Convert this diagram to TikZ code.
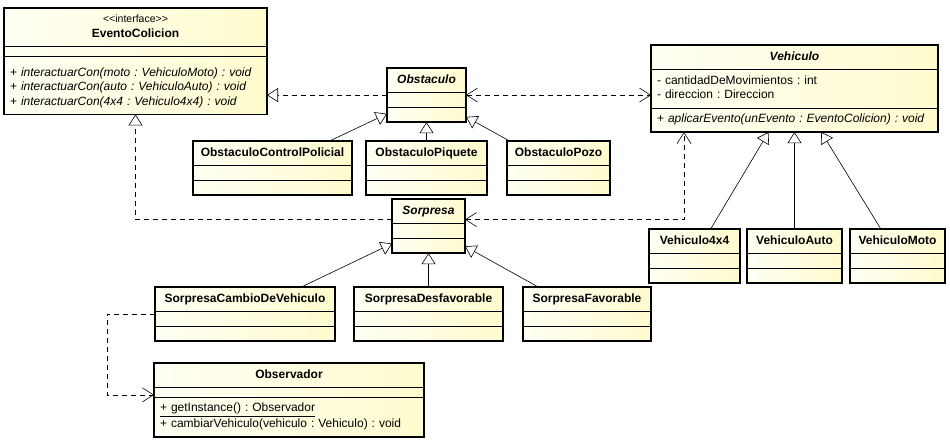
\documentclass[tikz,border=0pt]{standalone}
\usepackage{fontspec}
\setmainfont{Liberation Sans}
\usetikzlibrary{shapes.multipart,arrows.meta,positioning}
\setlength{\parindent}{0pt}
\frenchspacing

\definecolor{umlleft}{RGB}{255,255,244}
\definecolor{umlright}{RGB}{255,252,206}

% taller first line for the operations of the interface
\newcommand{\opline}{\rule{0pt}{15pt}}

\tikzset{
	umlclass/.style={rectangle split, rectangle split parts=3, draw, line width=0.7pt,
		anchor=north west, outer sep=0pt, inner xsep=6pt, inner ysep=4.5pt,
		rectangle split empty part height=0pt, rectangle split empty part depth=0pt,
		left color=umlleft, right color=umlright,
		font=\fontsize{12}{14.5}\selectfont},
	realize/.style={line width=0.6pt, dash pattern=on 5pt off 4pt, -{Triangle[open,length=11pt,width=14pt]}},
	inherit/.style={line width=0.6pt, -{Triangle[open,length=11pt,width=14pt]}},
	depend/.style={line width=0.6pt, dash pattern=on 5pt off 4pt, -{Straight Barb[length=11pt,width=14pt]}},
	dependboth/.style={line width=0.6pt, dash pattern=on 5pt off 4pt, {Straight Barb[length=11pt,width=14pt]}-{Straight Barb[length=11pt,width=14pt]}}
}

\begin{document}
\begin{tikzpicture}[x=1pt,y=-1pt]
		\useasboundingbox (0,0) rectangle (950,439);
		
		\node[umlclass, text width=251pt] (evento) at (4,8) {\centering{\fontsize{10.5}{14}\selectfont\textless\kern0pt\textless interface\textgreater\kern0pt\textgreater}\strut\\\textbf{EventoColicion}\strut\par
			\nodepart{second}
			\nodepart{third}\opline\strut+ \textit{interactuarCon(moto : VehiculoMoto) : void}\\
			\strut+ \textit{interactuarCon(auto : VehiculoAuto) : void}\\
			\strut+ \textit{interactuarCon(4x4 : Vehiculo4x4) : void}};
		
		\node[umlclass, text width=67pt] (obstaculo) at (387,68) {\centering\strut\textbf{\textit{Obstaculo}}\par};
		\node[umlclass, text width=147pt] (controlpolicial) at (193,141) {\centering\strut\textbf{ObstaculoControlPolicial}\par};
		\node[umlclass, text width=109pt] (piquete) at (366,141) {\centering\strut\textbf{ObstaculoPiquete}\par};
		\node[umlclass, text width=91pt] (pozo) at (507,141) {\centering\strut\textbf{ObstaculoPozo}\par};
		
		\node[umlclass, text width=275pt] (vehiculo) at (651,45) {\centering\strut\textbf{\textit{Vehiculo}}\par
			\nodepart{second}\strut- cantidadDeMovimientos : int\\
			\strut- direccion : Direccion
			\nodepart{third}\strut+ \textit{aplicarEvento(unEvento : EventoColicion) : void}};
		\node[umlclass, text width=79pt] (v4x4) at (649,229) {\centering\strut\textbf{Vehiculo4x4}\par};
		\node[umlclass, text width=83pt] (vauto) at (747,229) {\centering\strut\textbf{VehiculoAuto}\par};
		\node[umlclass, text width=83pt] (vmoto) at (850,229) {\centering\strut\textbf{VehiculoMoto}\par};
		
		\node[umlclass, text width=61pt] (sorpresa) at (392,199) {\centering\strut\textbf{\textit{Sorpresa}}\par};
		\node[umlclass, text width=168pt] (cambio) at (155,287) {\centering\strut\textbf{SorpresaCambioDeVehiculo}\par};
		\node[umlclass, text width=137pt] (desfavorable) at (354,287) {\centering\strut\textbf{SorpresaDesfavorable}\par};
		\node[umlclass, text width=116pt] (favorable) at (523,287) {\centering\strut\textbf{SorpresaFavorable}\par};
		
		\node[umlclass, text width=258pt] (observador) at (154,363) {\centering\strut\textbf{Observador}\par
			\nodepart{second}
			\nodepart{third}\strut\underline{+ getInstance() : Observador}\\
			\strut+ cambiarVehiculo(vehiculo : Vehiculo) : void};
		
		% thick outlines
		\foreach \c in {evento,obstaculo,controlpolicial,piquete,pozo,vehiculo,v4x4,vauto,vmoto,sorpresa,cambio,desfavorable,favorable,observador}
			\draw[line width=1.6pt] (\c.north west) rectangle (\c.south east);
		
		% generalizations
		\foreach \c in {controlpolicial,piquete,pozo}
			\draw[inherit] (\c) -- (obstaculo);
		\foreach \c in {v4x4,vauto,vmoto}
			\draw[inherit] (\c) -- (vehiculo);
		\foreach \c in {cambio,desfavorable,favorable}
			\draw[inherit] (\c) -- (sorpresa);
		
		% realizations and dependencies
		\draw[realize] (obstaculo.west) -- (obstaculo.west -| evento.east);
		\draw[realize] ([yshift=6.5pt]sorpresa.west) -| (evento.south);
		\draw[dependboth] (obstaculo.east) -- (obstaculo.east -| vehiculo.west);
		\draw[dependboth] ([yshift=6.5pt]sorpresa.east) -| ([xshift=33pt]vehiculo.south west);
		\draw[depend] (cambio.west) -- ++(-48,0) |- ([yshift=5pt]observador.west);
\end{tikzpicture}
\end{document}
